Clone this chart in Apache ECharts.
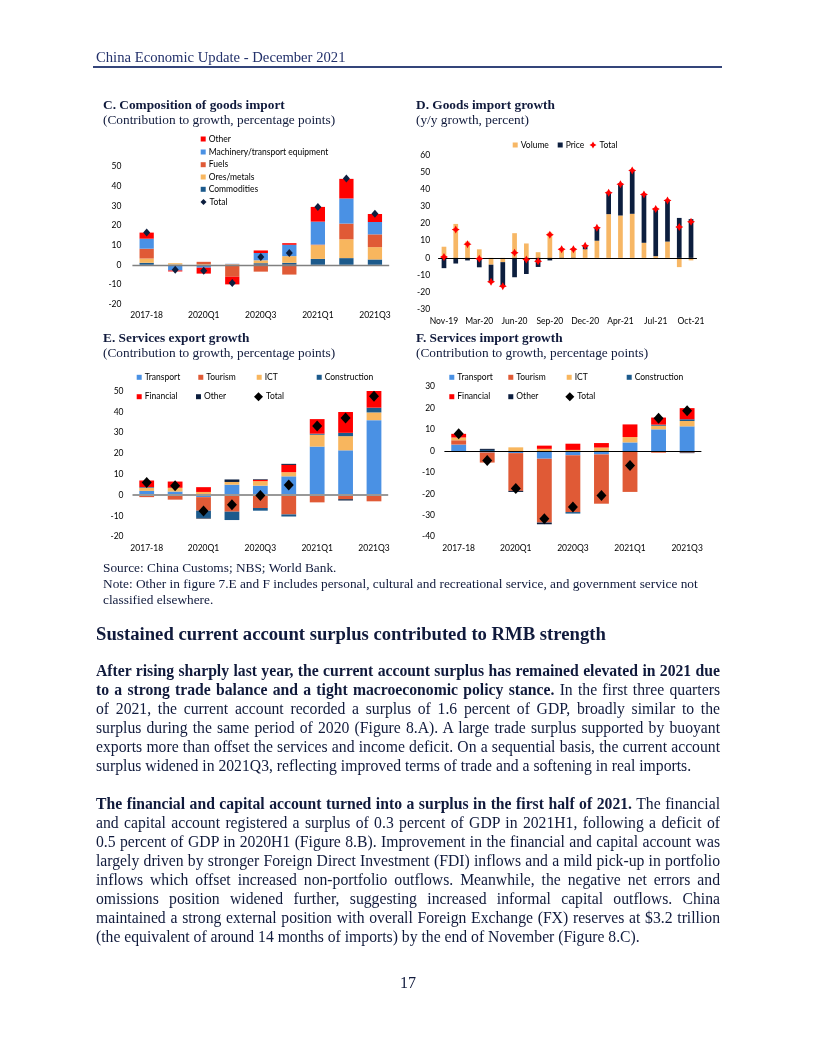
<!DOCTYPE html>
<html>
<head>
<meta charset="utf-8">
<script src="https://cdn.jsdelivr.net/npm/echarts@6/dist/echarts.min.js"></script>
<style>
html,body{margin:0;padding:0;background:#fff;}
#page{position:relative;width:816px;height:1056px;overflow:hidden;background:#fff;}
#chart{position:absolute;left:0;top:0;width:816px;height:1056px;z-index:1;}
.t{position:absolute;z-index:2;font-family:'Liberation Serif','Times New Roman',serif;color:#101a3c;white-space:nowrap;}
.hdr{left:96px;top:48px;font-size:14.67px;line-height:19px;color:#22306a;}
.rule{position:absolute;z-index:2;left:93px;top:66px;width:629px;height:2px;background:#34457a;}
.ct{font-size:13.33px;line-height:16px;font-weight:bold;}
.cs{font-size:13.33px;line-height:16px;}
.src{left:103px;top:560px;font-size:13.33px;line-height:16px;}
.h2{left:96px;top:623px;font-size:18.67px;line-height:22px;font-weight:bold;}
.para{left:96px;width:624px;font-size:15.7px;line-height:19px;}
.para div{width:624px;height:19px;white-space:nowrap;}
.para div.j{text-align:justify;text-align-last:justify;}
.pn{left:0;width:816px;text-align:center;top:973px;font-size:16px;line-height:19px;}
</style>
</head>
<body>
<div id="page">
<div id="chart"></div>
<div class="t hdr">China Economic Update - December 2021</div>
<div class="rule"></div>

<div class="t ct" style="left:103px;top:96.5px;">C. Composition of goods import</div>
<div class="t cs" style="left:103px;top:112px;">(Contribution to growth, percentage points)</div>
<div class="t ct" style="left:416px;top:96.5px;">D. Goods import growth</div>
<div class="t cs" style="left:416px;top:112px;">(y/y growth, percent)</div>
<div class="t ct" style="left:103px;top:329.5px;">E. Services export growth</div>
<div class="t cs" style="left:103px;top:345px;">(Contribution to growth, percentage points)</div>
<div class="t ct" style="left:416px;top:329.5px;">F. Services import growth</div>
<div class="t cs" style="left:416px;top:345px;">(Contribution to growth, percentage points)</div>

<div class="t src">Source: China Customs; NBS; World Bank.<br>Note: Other in figure 7.E and F includes personal, cultural and recreational service, and government service not<br>classified elsewhere.</div>

<div class="t h2">Sustained current account surplus contributed to RMB strength</div>

<div class="t para" style="top:660.5px;">
<div class="j"><b>After rising sharply last year, the current account surplus has remained elevated in 2021 due</b></div>
<div class="j"><b>to a strong trade balance and a tight macroeconomic policy stance.</b> In the first three quarters</div>
<div class="j">of 2021, the current account recorded a surplus of 1.6 percent of GDP, broadly similar to the</div>
<div class="j">surplus during the same period of 2020 (Figure 8.A). A large trade surplus supported by buoyant</div>
<div class="j">exports more than offset the services and income deficit. On a sequential basis, the current account</div>
<div>surplus widened in 2021Q3, reflecting improved terms of trade and a softening in real imports.</div>
</div>

<div class="t para" style="top:793.5px;">
<div class="j"><b>The financial and capital account turned into a surplus in the first half of 2021.</b> The financial</div>
<div class="j">and capital account registered a surplus of 0.3 percent of GDP in 2021H1, following a deficit of</div>
<div class="j">0.5 percent of GDP in 2020H1 (Figure 8.B). Improvement in the financial and capital account was</div>
<div class="j">largely driven by stronger Foreign Direct Investment (FDI) inflows and a mild pick-up in portfolio</div>
<div class="j">inflows which offset increased non-portfolio outflows. Meanwhile, the negative net errors and</div>
<div class="j">omissions position widened further, suggesting increased informal capital outflows. China</div>
<div class="j">maintained a strong external position with overall Foreign Exchange (FX) reserves at $3.2 trillion</div>
<div>(the equivalent of around 14 months of imports) by the end of November (Figure 8.C).</div>
</div>

<div class="t pn">17</div>
</div>

<script>
// ---------- DATA ----------
const quarters = ['2017-18','2019','2020Q1','2020Q2','2020Q3','2020Q4','2021Q1','2021Q2','2021Q3'];

// C. Composition of goods import (pp)
const cCommodities = [1.0, 0.0, -0.5, 0.0, 0.8, 1.0, 3.0, 3.4, 2.7];
const cOres        = [2.2, 0.8, 0.3, 0.3, 1.5, 3.4, 7.0, 9.6, 6.3];
const cFuels       = [5.0, 0.0, 1.2, -6.1, -3.5, -5.0, 0.3, 8.0, 6.5];
const cMachinery   = [5.1, -2.9, -1.0, 0.2, 3.7, 5.8, 11.7, 12.8, 6.3];
const cOther       = [3.1, -0.5, -3.0, -3.9, 1.3, 0.8, 7.5, 10.0, 4.1];
const cTotal       = [16.5, -2.5, -3.0, -9.3, 4.0, 6.0, 29.5, 44.0, 26.0];

// D. Goods import growth (y/y %)
const months = ['Nov-19','Dec-19','Feb-20','Mar-20','Apr-20','May-20','Jun-20','Jul-20','Aug-20','Sep-20','Oct-20','Nov-20',
                'Dec-20','Feb-21','Mar-21','Apr-21','May-21','Jun-21','Jul-21','Aug-21','Sep-21','Oct-21'];
const dVolume = [6.5, 19.8, 9.5, 5.0, -4.0, -2.5, 14.4, 8.4, 3.3, 14.8, 5.5, 5.5, 5.0, 10.0, 25.5, 24.7, 25.7, 8.8, 1.0, 9.5, -5.4, -1.5];
const dPrice  = [-6.0, -3.3, -1.5, -5.5, -10.0, -14.0, -11.3, -9.4, -5.3, -1.5, -0.5, -0.5, 2.0, 7.5, 12.6, 18.5, 25.5, 28.2, 27.6, 24.0, 23.3, 22.6];
const dTotal  = [0.5, 16.5, 8.0, -0.5, -14.0, -16.5, 3.0, -1.0, -2.0, 13.5, 5.0, 5.0, 7.0, 17.5, 38.0, 43.0, 51.0, 37.0, 28.5, 33.5, 18.0, 21.0];

// E. Services export growth (pp)
const eTransport    = [2.0, 1.7, -1.0, 5.0, 4.5, 9.0, 23.3, 21.5, 36.0];
const eTourism      = [-1.0, -2.2, -6.5, -8.0, -6.2, -9.3, -3.5, -2.0, -3.0];
const eICT          = [1.5, 1.8, 1.5, 1.3, 2.2, 2.0, 5.7, 6.8, 3.7];
const eConstruction = [0.3, 0.0, -3.5, -4.0, -1.3, -1.0, 0.5, 1.6, 2.3];
const eFinancial    = [3.2, 3.0, 2.3, 0.0, 0.6, 3.5, 7.0, 10.0, 8.0];
const eOther        = [0.0, 0.0, -0.3, 1.2, 0.3, 0.5, 0.0, -0.6, 0.0];
const eTotal        = [6.0, 4.5, -7.7, -4.6, -0.2, 4.8, 33.2, 37.0, 47.5];

// F. Services import growth (pp)
const fTransport    = [3.0, -0.7, -1.0, -3.6, -2.0, -1.6, 4.0, 10.1, 11.5];
const fTourism      = [2.0, -4.7, -17.6, -29.8, -26.5, -23.0, -19.1, -0.8, -0.7];
const fICT          = [1.3, 0.0, 1.7, 1.0, 0.5, 1.6, 2.5, 1.7, 2.5];
const fConstruction = [0.0, 0.5, 0.0, 0.0, -0.7, 0.0, 0.0, 0.5, 0.8];
const fFinancial    = [1.7, 0.0, 0.0, 1.5, 2.9, 2.1, 5.9, 3.3, 5.2];
const fOther        = [0.0, 0.5, -0.5, -0.8, 0.0, 0.0, 0.0, 0.0, -0.3];
const fTotal        = [8.0, -4.4, -17.5, -31.6, -26.1, -20.8, -6.8, 15.3, 18.8];

// ---------- STYLE ----------
const FONT = 'Lato';
const FS = 8.5;
const COL = {
  red:'#ff0000', blue:'#4a91e4', fuel:'#e05a36', ore:'#f8b65e', teal:'#1c5a8c', navy:'#0c1e3e',
  vol:'#f7b765'
};
const STAR = 'path://M0,-10 L3.6,-3.6 L10,0 L3.6,3.6 L0,10 L-3.6,3.6 L-10,0 L-3.6,-3.6 Z';

const grids = [
  {left:132.4, top:166.7, width:256.8, height:137.3},
  {left:438.1, top:155,   width:258.8, height:154.3},
  {left:132.5, top:391,   width:255.7, height:145.7},
  {left:444.4, top:386.7, width:257,   height:150}
];
const yCfg = [
  {min:-20, max:50, margin:11},
  {min:-30, max:60, margin:8},
  {min:-20, max:50, margin:9},
  {min:-40, max:30, margin:9.4}
];
const xCats = [quarters, months, quarters, quarters];
const xInt  = [1, 2, 1, 1];

const xAxis = xCats.map((d,i)=>({
  type:'category', gridIndex:i, data:d,
  axisLine:{show:false}, axisTick:{show:false}, splitLine:{show:false},
  axisLabel:{interval:xInt[i], fontSize:FS, color:'#000', fontFamily:FONT, margin:7}
}));
const yAxis = yCfg.map((c,i)=>({
  type:'value', gridIndex:i, min:c.min, max:c.max, interval:10,
  axisLine:{show:false}, axisTick:{show:false}, splitLine:{show:false},
  axisLabel:{fontSize:FS, color:'#000', fontFamily:FONT, margin:c.margin}
}));

function zeroLine(color, width){
  return {silent:true, symbol:['none','none'], label:{show:false},
          lineStyle:{color:color, width:width, type:'solid'}, data:[{yAxis:0}]};
}
function barSeries(prefix, gi, names, arrays, colors, bw, zl){
  return names.map((n,k)=>{
    const s = {type:'bar', name:prefix+'|'+n, xAxisIndex:gi, yAxisIndex:gi, stack:prefix,
      data:arrays[k], barWidth:bw, itemStyle:{color:colors[k]}, emphasis:{disabled:true}};
    if(k===0) s.markLine = zl;
    return s;
  });
}
function totalSeries(prefix, gi, data, symbol, size, color){
  return {type:'scatter', name:prefix+'|Total', xAxisIndex:gi, yAxisIndex:gi, data:data,
    symbol:symbol, symbolSize:size, itemStyle:{color:color, opacity:1}, z:5};
}

const series = [].concat(
  barSeries('C',0,['Commodities','Ores/metals','Fuels','Machinery/transport equipment','Other'],
    [cCommodities,cOres,cFuels,cMachinery,cOther],[COL.teal,COL.ore,COL.fuel,COL.blue,COL.red],'50%',zeroLine('#808080',1.3)),
  [totalSeries('C',0,cTotal,'diamond',[7,8],COL.navy)],
  barSeries('D',1,['Volume','Price'],[dVolume,dPrice],[COL.vol,COL.navy],'40%',zeroLine('#000',1)),
  [totalSeries('D',1,dTotal,STAR,8,COL.red)],
  barSeries('E',2,['Transport','Tourism','ICT','Construction','Financial','Other'],
    [eTransport,eTourism,eICT,eConstruction,eFinancial,eOther],[COL.blue,COL.fuel,COL.ore,COL.teal,COL.red,COL.navy],'52%',zeroLine('#999999',2.2)),
  [totalSeries('E',2,eTotal,'diamond',[10,11],'#000')],
  barSeries('F',3,['Transport','Tourism','ICT','Construction','Financial','Other'],
    [fTransport,fTourism,fICT,fConstruction,fFinancial,fOther],[COL.blue,COL.fuel,COL.ore,COL.teal,COL.red,COL.navy],'52%',zeroLine('#000',1)),
  [totalSeries('F',3,fTotal,'diamond',[10,11],'#000')]
);

// legends: one component per item, positioned like the reference
function leg(name, left, center, icon, size){
  size = size || 5;
  return {data:[{name:name, icon:icon||'rect'}], left:left, top:center-5, padding:0, itemGap:0,
    itemWidth:size, itemHeight:size, selectedMode:false,
    formatter:(n)=>n.split('|')[1],
    textStyle:{fontSize:FS, fontFamily:FONT, color:'#000', lineHeight:10, padding:[0,0,0,-2]}};
}
const legend = [
  leg('C|Other',200.7,139), leg('C|Machinery/transport equipment',200.7,152), leg('C|Fuels',200.7,164.7),
  leg('C|Ores/metals',200.7,177), leg('C|Commodities',200.7,189.3), leg('C|Total',200.5,202,'diamond',6),
  leg('D|Volume',512.7,145), leg('D|Price',557.7,145), leg('D|Total',589.5,145,STAR,7),
  leg('E|Transport',136.7,377.3), leg('E|Tourism',198.3,377.3), leg('E|ICT',256.7,377.3), leg('E|Construction',316.7,377.3),
  leg('E|Financial',136.7,396.7), leg('E|Other',196,396.7), leg('E|Total',254,396.7,'diamond',9),
  leg('F|Transport',449.3,377.3), leg('F|Tourism',508.3,377.3), leg('F|ICT',566.7,377.3), leg('F|Construction',626.7,377.3),
  leg('F|Financial',449.3,396.7), leg('F|Other',508.3,396.7), leg('F|Total',565.3,396.7,'diamond',9)
];

const chart = echarts.init(document.getElementById('chart'), null, {renderer:'canvas'});
chart.setOption({
  animation:false,
  backgroundColor:'transparent',
  textStyle:{fontFamily:FONT},
  grid:grids, xAxis:xAxis, yAxis:yAxis, legend:legend, series:series
});
</script>
</body>
</html>
